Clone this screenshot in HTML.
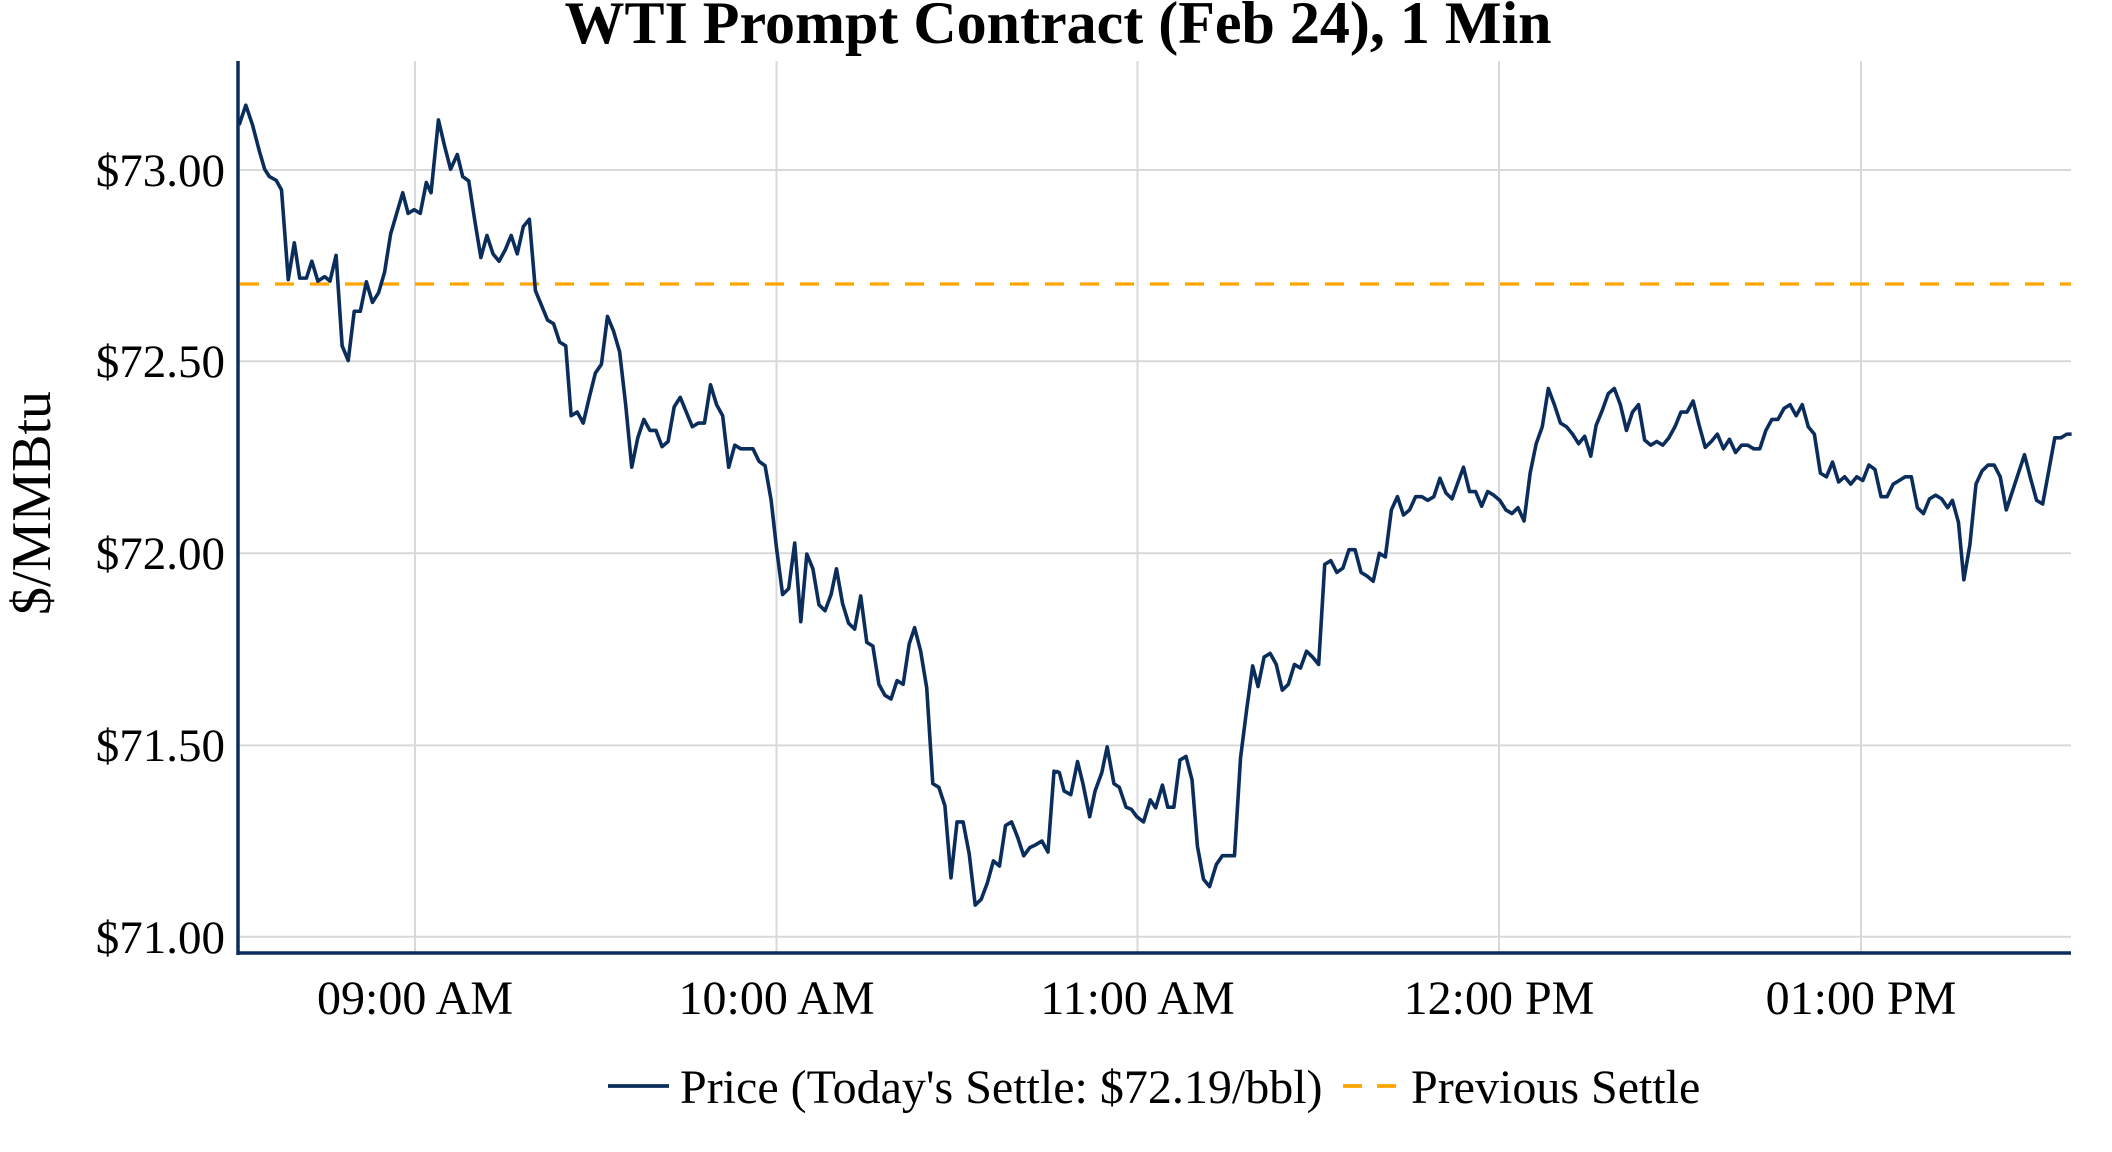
<!DOCTYPE html>
<html><head><meta charset="utf-8"><style>
html,body{margin:0;padding:0;background:#fff;}
svg{display:block;}
text{font-family:"Liberation Serif",serif;fill:#000;}
</style></head><body>
<svg width="2112" height="1152" viewBox="0 0 2112 1152" xmlns="http://www.w3.org/2000/svg">
<rect width="2112" height="1152" fill="#fff"/>
<g stroke="#d9d9d9" stroke-width="2">
<line x1="237" y1="170" x2="2071" y2="170"/>
<line x1="237" y1="361.3" x2="2071" y2="361.3"/>
<line x1="237" y1="553.3" x2="2071" y2="553.3"/>
<line x1="237" y1="745.4" x2="2071" y2="745.4"/>
<line x1="237" y1="936.7" x2="2071" y2="936.7"/>
<line x1="415" y1="61" x2="415" y2="953"/>
<line x1="776.5" y1="61" x2="776.5" y2="953"/>
<line x1="1137.5" y1="61" x2="1137.5" y2="953"/>
<line x1="1499" y1="61" x2="1499" y2="953"/>
<line x1="1861" y1="61" x2="1861" y2="953"/>
</g>
<line x1="240" y1="284" x2="2071" y2="284" stroke="#ffa500" stroke-width="3.2" stroke-dasharray="19,16"/>
<g fill="none" stroke="#0b2d5c" stroke-width="3.6" stroke-linejoin="round">
<g transform="scale(0.67349,0.7358)">
<polyline vector-effect="non-scaling-stroke" points="355,170 365,143 375,170 385,205 393,230 400,240 410,245 418,258 428,380 437,330 445,378 455,378 463,355 472,382 482,376 490,382 499,347 508,470 517,490 526,423 535,423 544,383 553,411 562,398 571,370 580,318 589,290 598,262 606,290 615,285 624,290 633,248 640,262 651,163 660,198 669,230 679,210 687,240 696,246 705,300 714,350 723,320 732,345 741,355 750,340 759,320 768,345 777,308 786,298 795,395 804,415 813,435 822,440 831,465 840,470 848,565 857,560 866,575 875,540 884,507 893,495 902,430 911,450 920,478 929,550 938,635 947,595 956,570 965,585 974,585 983,607 992,600 1001,553 1010,540 1019,560 1028,580 1037,575 1046,575 1055,523 1064,550 1073,565 1082,635 1091,605 1100,610 1109,610 1118,610 1127,627 1136,633 1145,680 1153,745 1162,808 1171,800 1180,738 1189,845 1198,753 1207,773 1216,822 1225,830 1234,808 1242,773 1251,820 1260,847 1269,855 1278,810 1287,873 1296,878 1305,930 1314,945 1323,950 1332,925 1341,930 1350,875 1358,853 1367,885 1376,935 1385,1065 1394,1070 1403,1095 1412,1193 1421,1117 1430,1117 1439,1160 1448,1230 1457,1222 1466,1200 1475,1170 1484,1177 1493,1122 1502,1117 1511,1138 1520,1163 1529,1152 1538,1148 1547,1143 1556,1158 1565,1048 1570,1050"/>
</g>
<g transform="translate(1056,0) scale(0.67349,0.7358)">
<polyline vector-effect="non-scaling-stroke" points="0,1048 5,1050 12,1075 22,1080 32,1035 40,1065 50,1110 58,1075 68,1050 76,1015 86,1065 94,1070 104,1097 112,1100 120,1110 130,1117 140,1087 148,1098 158,1067 166,1097 175,1097 184,1033 193,1028 202,1060 210,1150 219,1195 228,1205 238,1175 247,1163 256,1163 265,1163 274,1030 283,965 292,905 300,933 309,893 318,888 327,903 336,938 345,930 354,903 363,908 372,885 381,893 390,903 399,767 408,762 417,778 426,772 435,747 444,747 453,778 462,783 471,790 480,752 489,757 498,693 507,675 516,700 525,693 534,675 543,675 552,680 561,675 570,650 579,670 588,678 597,655 605,635 614,668 623,668 632,688 641,668 650,673 659,680 668,693 677,698 686,690 695,708 704,643 713,603 722,580 731,528 740,550 749,575 758,580 767,590 776,603 785,593 794,620 802,578 811,558 820,535 829,528 838,550 847,585 856,560 865,550 874,598 883,605 892,600 901,605 910,595 919,580 928,560 937,560 946,545 955,578 964,608 973,600 982,590 991,610 1000,597 1009,615 1018,605 1027,605 1036,610 1045,610 1054,585 1063,570 1072,570 1081,555 1090,550 1099,565 1108,550 1117,580 1126,590 1135,643 1144,648 1153,628 1162,655 1171,648 1180,658 1189,648 1198,653 1207,632 1216,638 1225,675 1234,675 1243,658 1252,653 1261,648 1270,648 1279,690 1288,698 1297,678 1306,673 1315,678 1324,690 1331,680 1340,710 1348,788 1357,740 1366,658 1375,640 1384,632 1393,632 1402,648 1411,693 1420,668 1429,643 1438,618 1447,650 1456,680 1465,685 1474,640 1483,595 1492,595 1501,590 1508,590"/>
</g>
</g>
<line x1="238" y1="61" x2="238" y2="955" stroke="#0b2d5c" stroke-width="3.5"/>
<line x1="236.5" y1="953" x2="2071" y2="953" stroke="#0b2d5c" stroke-width="3.5"/>
<g font-size="47" text-anchor="end">
<text x="225" y="186">$73.00</text>
<text x="225" y="377">$72.50</text>
<text x="225" y="569">$72.00</text>
<text x="225" y="761">$71.50</text>
<text x="225" y="953">$71.00</text>
</g>
<g font-size="48" text-anchor="middle">
<text x="415" y="1014">09:00 AM</text>
<text x="776.5" y="1014">10:00 AM</text>
<text x="1137.5" y="1014">11:00 AM</text>
<text x="1499" y="1014">12:00 PM</text>
<text x="1861" y="1014">01:00 PM</text>
</g>
<text x="1058" y="43" font-size="60" font-weight="bold" text-anchor="middle">WTI Prompt Contract (Feb 24), 1 Min</text>
<text transform="translate(50,503) rotate(-90)" font-size="56" text-anchor="middle">$/MMBtu</text>
<line x1="608" y1="1086" x2="669" y2="1086" stroke="#0b2d5c" stroke-width="3.8"/>
<text x="680" y="1103" font-size="48">Price (Today's Settle: $72.19/bbl)</text>
<line x1="1343" y1="1086" x2="1396" y2="1086" stroke="#ffa500" stroke-width="3.8" stroke-dasharray="19,15"/>
<text x="1411" y="1103" font-size="48">Previous Settle</text>
</svg>
</body></html>
